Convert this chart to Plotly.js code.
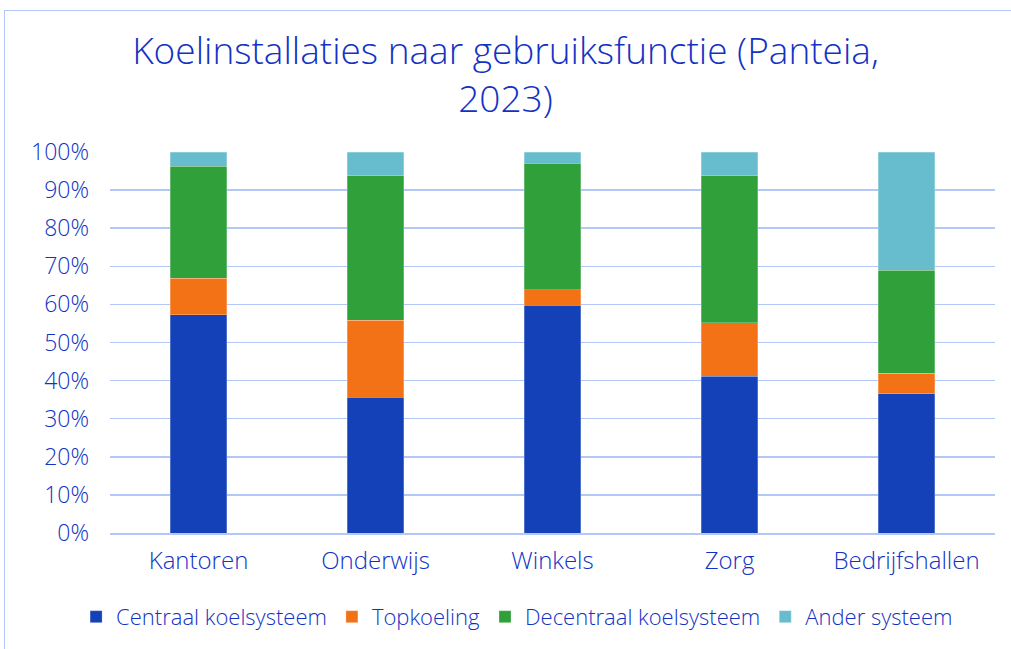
<!DOCTYPE html>
<html><head><meta charset="utf-8">
<script src="https://cdn.plot.ly/plotly-3.0.1.min.js"></script>
<style>
html,body{margin:0;padding:0;background:#fff;}
#chart{width:1011px;height:649px;position:relative;}
#frame{position:absolute;left:4px;top:10px;width:1020px;height:700px;border:1px solid #B4C8F8;pointer-events:none;}
</style></head>
<body>
<div id="chart"></div>
<div id="frame"></div>
<script>
const categories = ["Kantoren","Onderwijs","Winkels","Zorg","Bedrijfshallen"];
const centraal   = [57.3, 35.6, 59.8, 41.1, 36.6];
const topkoeling = [9.5, 20.2, 4.0, 14.1, 5.3];
const decentraal = [29.5, 38.0, 33.2, 38.6, 27.0];
const ander      = [3.7, 6.2, 3.0, 6.2, 31.1];
const seriesNames = ["Centraal koelsysteem","Topkoeling","Decentraal koelsysteem","Ander systeem"];
const colors = ["#1440B8","#F47216","#30A03A","#67BDCE"];
const vals = [centraal, topkoeling, decentraal, ander];
const txt = "#1232C4";
const fam = "'Open Sans', Lato, sans-serif";
const traces = vals.map((v,i)=>({
  type:"bar", x:categories, y:v.map(d=>d/100), name:seriesNames[i],
  marker:{color:colors[i], line:{color:"rgba(255,255,255,0.5)", width:0.5}},
  hoverinfo:"y+name"
}));
Plotly.newPlot("chart", traces, {
  width:1011, height:649,
  barmode:"stack", bargap:0.68,
  margin:{l:110, r:16, t:152, b:115},
  paper_bgcolor:"#fff", plot_bgcolor:"#fff",
  font:{family:fam, color:txt, size:20, weight:300},
  title:{text:"Koelinstallaties naar gebruiksfunctie (Panteia,<br>2023)", x:0.5, xanchor:"center",
    yref:"container", y:0.902, yanchor:"middle",
    font:{size:37, color:txt, family:fam, weight:300}},
  yaxis:{range:[0,1], dtick:0.1, tickformat:".0%", gridcolor:"#B4C8F8", gridwidth:1.5,
    zeroline:false, showline:false, ticks:"", ticklabelstandoff:20, tickfont:{size:23,color:txt}},
  xaxis:{showline:true, linecolor:"#B4C8F8", linewidth:1.5, ticks:"", tickfont:{size:24,color:txt}, ticklabelstandoff:6},
  showlegend:true,
  legend:{orientation:"h", traceorder:"normal", x:0.46, xanchor:"center", y:-0.217, yanchor:"middle",
    font:{size:22,color:txt}, itemwidth:30, tracegroupgap:0}
}, {displayModeBar:false, staticPlot:true});
</script>
</body></html>
